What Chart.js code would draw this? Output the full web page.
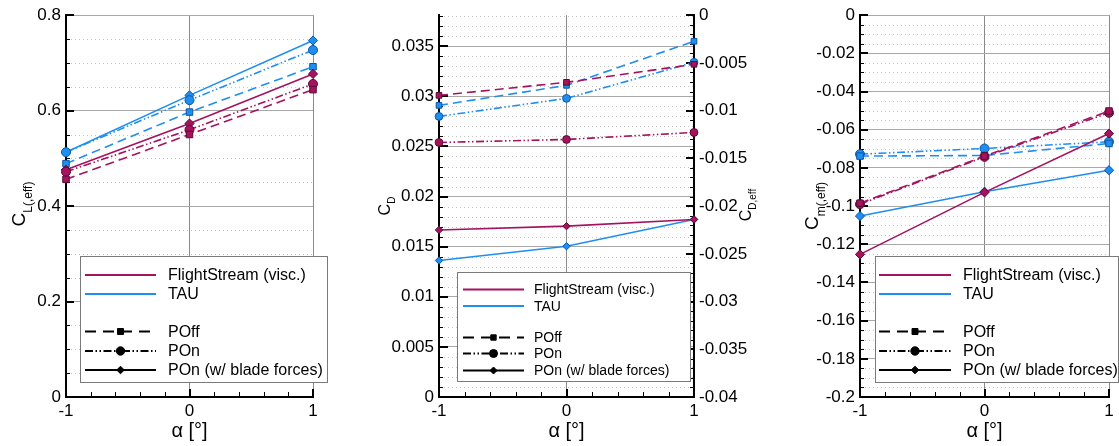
<!DOCTYPE html>
<html><head><meta charset="utf-8">
<script src="https://cdn.jsdelivr.net/npm/chart.js@4.4.1/dist/chart.umd.min.js"></script>
<style>
html,body{margin:0;padding:0;background:#fff;}
#wrap{position:relative;width:1119px;height:446px;overflow:hidden;}
canvas{position:absolute;left:0;top:0;}
</style></head><body>
<div id="wrap">
<canvas id="p1" width="1119" height="446"></canvas>
<canvas id="p2" width="1119" height="446"></canvas>
<canvas id="p3" width="1119" height="446"></canvas>
</div>
<script>
// ---------------- data ----------------
const alpha = [-1, 0, 1];
const xTicks = [-1, 0, 1];

// Panel 1: lift coefficient
const clTicks = [0, 0.2, 0.4, 0.6, 0.8];
const clFsPOff   = [0.456, 0.550, 0.644];
const clFsPOn    = [0.472, 0.560, 0.656];
const clFsBlade  = [0.476, 0.573, 0.677];
const clTauPOff  = [0.489, 0.597, 0.692];
const clTauPOn   = [0.513, 0.622, 0.727];
const clTauBlade = [0.513, 0.632, 0.747];

// Panel 2: drag coefficient (left) and effective drag coefficient (right)
const cdTicks    = [0, 0.005, 0.01, 0.015, 0.02, 0.025, 0.03, 0.035];
const cdEffTicks = [-0.04, -0.035, -0.03, -0.025, -0.02, -0.015, -0.01, -0.005, 0];
const cdFsPOff   = [0.0301, 0.0314, 0.0332];
const cdFsPOn    = [0.0254, 0.0257, 0.0264];
const cdTauPOff  = [0.0291, 0.0311, 0.0355];
const cdTauPOn   = [0.0280, 0.0298, 0.0334];
const cdEffFsBlade  = [-0.0225, -0.0221, -0.0214];
const cdEffTauBlade = [-0.0257, -0.0242, -0.0214];

// Panel 3: pitching moment coefficient
const cmTicks = [-0.2, -0.18, -0.16, -0.14, -0.12, -0.1, -0.08, -0.06, -0.04, -0.02, 0];
const cmFsPOff   = [-0.0985, -0.0738, -0.0502];
const cmFsPOn    = [-0.0990, -0.0742, -0.0511];
const cmFsBlade  = [-0.1253, -0.0928, -0.0620];
const cmTauPOff  = [-0.0738, -0.0735, -0.0672];
const cmTauPOn   = [-0.0728, -0.0698, -0.0663];
const cmTauBlade = [-0.1052, -0.0925, -0.0812];

const legendLabels = ['FlightStream (visc.)', 'TAU', 'POff', 'POn', 'POn (w/ blade forces)'];

// ---------------- styles ----------------
const FS_COLOR = '#A5135E', FS_EDGE = '#5a0a33';
const TAU_COLOR = '#1F8EF1', TAU_EDGE = '#0b56a3';
const GRID = '#a8a8a8', VGRID = '#8a8a8a', MINOR = '#c6c6c6';
const DASH_OFF = [9, 5];
const DASH_ON = [8, 2.5, 1.5, 2.5, 1.5, 2.5];
const FONT = '"Liberation Sans", Arial, Helvetica, sans-serif';

Chart.defaults.font.family = FONT;
Chart.defaults.font.size = 17;
Chart.defaults.color = '#000';

function series(vals, color, edge, kind, yAxisID, r) {
  const st = {off: ['rect', DASH_OFF], on: ['circle', DASH_ON], blade: ['rectRot', []]}[kind];
  return {
    data: alpha.map((a, i) => ({x: a, y: vals[i]})),
    yAxisID: yAxisID || 'y',
    showLine: true,
    borderColor: color, borderWidth: 1.6, borderDash: st[1],
    backgroundColor: color,
    pointStyle: st[0], pointRadius: r[kind], pointHoverRadius: r[kind],
    pointBackgroundColor: color, pointBorderColor: edge, pointBorderWidth: 1,
    tension: 0, fill: false, clip: false
  };
}

function steps(lo, hi, step, skipEvery) {
  const out = [];
  const n = Math.round((hi - lo) / step);
  for (let i = 0; i <= n; i++) {
    if (skipEvery && i % skipEvery === 0) continue;
    out.push(+(lo + i * step).toFixed(6));
  }
  return out;
}

function xScale(grayAt) {
  return {
    type: 'linear', min: -1, max: 1,
    afterBuildTicks: s => { s.ticks = xTicks.map(v => ({value: v})); },
    afterFit: s => { s.height = 49; },
    ticks: {padding: 4, autoSkip: false, maxRotation: 0, callback: v => String(v)},
    grid: {drawTicks: false, lineWidth: 1,
      color: c => (c.tick && grayAt.includes(c.tick.value)) ? VGRID : 'rgba(0,0,0,0)'},
    border: {display: true, color: '#000', width: 2},
    title: {display: true, text: 'α [°]', font: {size: 20}, padding: {top: 0, bottom: 3}}
  };
}

function yScale(o) {
  return {
    type: 'linear', position: o.position || 'left', min: o.min, max: o.max,
    afterBuildTicks: s => { s.ticks = o.ticks.map(v => ({value: v})); },
    afterFit: s => { s.width = o.width; },
    ticks: {padding: 5, autoSkip: false, callback: v => String(v)},
    grid: {drawTicks: false, drawOnChartArea: o.grid !== false, lineWidth: 1,
      color: c => (c.tick && c.tick.value === o.min) ? 'rgba(0,0,0,0)' : GRID},
    border: {display: true, color: '#000', width: 2}
  };
}

const decor = {
  id: 'decor',
  beforeDatasetsDraw(chart, args, o) {
    const ctx = chart.ctx, a = chart.chartArea;
    ctx.save();
    ctx.lineWidth = 1; ctx.strokeStyle = MINOR; ctx.setLineDash([1, 3]);
    (o.minor || []).forEach(v => {
      const y = Math.round(chart.scales[o.minorAxis].getPixelForValue(v)) + 0.5;
      ctx.beginPath(); ctx.moveTo(a.left + 1, y); ctx.lineTo(a.right, y); ctx.stroke();
    });
    ctx.setLineDash([]);
    ctx.strokeStyle = '#000';
    (o.tickMarks || []).forEach(t => {
      const s = chart.scales[t.axis];
      ctx.lineWidth = t.w;
      t.values.forEach(v => {
        let p = Math.round(s.getPixelForValue(v));
        if (t.w % 2 === 1) p += 0.5;
        ctx.beginPath();
        if (t.side === 'left') { ctx.moveTo(a.left, p); ctx.lineTo(a.left + t.len, p); }
        else if (t.side === 'right') { ctx.moveTo(a.right, p); ctx.lineTo(a.right - t.len, p); }
        else { ctx.moveTo(p, a.bottom); ctx.lineTo(p, a.bottom - t.len); }
        ctx.stroke();
      });
    });
    ctx.restore();
  },
  afterDatasetsDraw(chart, args, o) {
    const L = o.legend; if (!L) return;
    const ctx = chart.ctx;
    ctx.save();
    ctx.fillStyle = '#fff'; ctx.strokeStyle = '#7a7a7a'; ctx.lineWidth = 1;
    ctx.fillRect(L.box[0], L.box[1], L.box[2] - L.box[0], L.box[3] - L.box[1]);
    ctx.strokeRect(L.box[0] + 0.5, L.box[1] + 0.5, L.box[2] - L.box[0], L.box[3] - L.box[1]);
    const rows = [
      {color: FS_COLOR, dash: [], m: null},
      {color: TAU_COLOR, dash: [], m: null},
      {color: '#000', dash: [11, 7], m: 'rect', r: L.mr[0]},
      {color: '#000', dash: [8, 2.5, 1.5, 2.5, 1.5, 2.5], m: 'circle', r: L.mr[1]},
      {color: '#000', dash: [], m: 'rectRot', r: L.mr[2]}
    ];
    rows.forEach((row, i) => {
      const y = L.rows[i];
      ctx.strokeStyle = row.color; ctx.lineWidth = 2; ctx.setLineDash(row.dash);
      ctx.beginPath(); ctx.moveTo(L.sx[0], y); ctx.lineTo(L.sx[1], y); ctx.stroke();
      ctx.setLineDash([]);
      if (row.m) {
        ctx.fillStyle = '#000'; ctx.strokeStyle = '#000'; ctx.lineWidth = 1;
        Chart.helpers.drawPoint(ctx, {pointStyle: row.m, radius: row.r, rotation: 0, borderWidth: 1},
          (L.sx[0] + L.sx[1]) / 2, y);
      }
      ctx.fillStyle = '#000';
      ctx.font = L.font + 'px ' + FONT;
      ctx.textBaseline = 'middle'; ctx.textAlign = 'left';
      ctx.fillText(legendLabels[i], L.tx, y + 1);
    });
    ctx.restore();
  },
  afterDraw(chart, args, o) {
    const ctx = chart.ctx;
    (o.yTitles || []).forEach(t => {
      ctx.save();
      ctx.translate(t.x, t.y);
      ctx.rotate(-Math.PI / 2);
      ctx.fillStyle = '#000';
      ctx.textBaseline = 'alphabetic'; ctx.textAlign = 'left';
      ctx.font = t.ms + 'px ' + FONT;
      const wm = ctx.measureText(t.main).width;
      ctx.font = t.ss + 'px ' + FONT;
      const ws = ctx.measureText(t.sub).width;
      const x0 = -(wm + ws) / 2;
      ctx.font = t.ms + 'px ' + FONT;
      ctx.fillText(t.main, x0, 0);
      ctx.font = t.ss + 'px ' + FONT;
      ctx.fillText(t.sub, x0 + wm, t.so);
      ctx.restore();
    });
  }
};

const commonOpts = {
  responsive: false, animation: false, devicePixelRatio: 1,
  events: [],
};
const xMinorTicks = steps(-1, 1, 0.2, 5);

// ---------------- Panel 1 ----------------
const R1 = {off: 4.6, on: 4.5, blade: 4.6};
new Chart(document.getElementById('p1'), {
  type: 'scatter',
  data: {datasets: [
    series(clFsPOff, FS_COLOR, FS_EDGE, 'off', 'y', R1),
    series(clFsPOn, FS_COLOR, FS_EDGE, 'on', 'y', R1),
    series(clFsBlade, FS_COLOR, FS_EDGE, 'blade', 'y', R1),
    series(clTauPOff, TAU_COLOR, TAU_EDGE, 'off', 'y', R1),
    series(clTauPOn, TAU_COLOR, TAU_EDGE, 'on', 'y', R1),
    series(clTauBlade, TAU_COLOR, TAU_EDGE, 'blade', 'y', R1)
  ]},
  options: Object.assign({}, commonOpts, {
    layout: {padding: {left: 6, right: 1119 - 313, top: 15, bottom: 0}},
    scales: {
      x: xScale([0, 1]),
      y: yScale({min: 0, max: 0.8, ticks: clTicks, width: 60})
    },
    plugins: {
      legend: {display: false}, tooltip: {enabled: false},
      decor: {
        minorAxis: 'y', minor: steps(0, 0.8, 0.05, 4),
        tickMarks: [
          {axis: 'y', side: 'left', values: clTicks, len: 8, w: 2},
          {axis: 'y', side: 'left', values: steps(0, 0.8, 0.05, 4), len: 4, w: 1},
          {axis: 'x', side: 'bottom', values: xTicks, len: 8, w: 2},
          {axis: 'x', side: 'bottom', values: xMinorTicks, len: 5, w: 1}
        ],
        legend: {box: [80, 256, 327, 382], rows: [275, 294, 331.5, 351, 370], sx: [85, 156], tx: 168, font: 16, mr: [4.2, 4.2, 3.8]},
        yTitles: [{x: 25, y: 204, main: 'C', sub: 'L(,eff)', ms: 19, ss: 12, so: 7}]
      }
    }
  }),
  plugins: [decor]
});

// ---------------- Panel 2 ----------------
const R2 = {off: 4.0, on: 3.9, blade: 3.7};
new Chart(document.getElementById('p2'), {
  type: 'scatter',
  data: {datasets: [
    series(cdFsPOff, FS_COLOR, FS_EDGE, 'off', 'y', R2),
    series(cdFsPOn, FS_COLOR, FS_EDGE, 'on', 'y', R2),
    series(cdEffFsBlade, FS_COLOR, FS_EDGE, 'blade', 'y2', R2),
    series(cdTauPOff, TAU_COLOR, TAU_EDGE, 'off', 'y', R2),
    series(cdTauPOn, TAU_COLOR, TAU_EDGE, 'on', 'y', R2),
    series(cdEffTauBlade, TAU_COLOR, TAU_EDGE, 'blade', 'y2', R2)
  ]},
  options: Object.assign({}, commonOpts, {
    layout: {padding: {left: 439 - 60, right: 1119 - 694 - 60, top: 15, bottom: 0}},
    scales: {
      x: xScale([0]),
      y: yScale({min: 0, max: 0.0381, ticks: cdTicks, width: 60}),
      y2: yScale({min: -0.04, max: 0, ticks: cdEffTicks, width: 60, position: 'right', grid: false})
    },
    plugins: {
      legend: {display: false}, tooltip: {enabled: false},
      decor: {
        minorAxis: 'y', minor: steps(0, 0.038, 0.001, 5),
        tickMarks: [
          {axis: 'y', side: 'left', values: cdTicks, len: 9, w: 2},
          {axis: 'y', side: 'left', values: steps(0, 0.038, 0.001, 5), len: 4, w: 1},
          {axis: 'y2', side: 'right', values: cdEffTicks, len: 8, w: 2},
          {axis: 'y2', side: 'right', values: steps(-0.04, 0, 0.001, 5), len: 4, w: 1},
          {axis: 'x', side: 'bottom', values: xTicks, len: 8, w: 2},
          {axis: 'x', side: 'bottom', values: xMinorTicks, len: 5, w: 1}
        ],
        legend: {box: [457, 272, 690, 381], rows: [289.5, 306, 337.5, 353.5, 370.5], sx: [463, 524], tx: 534, font: 14, mr: [3.8, 4.0, 3.5]},
        yTitles: [
          {x: 390, y: 206, main: 'C', sub: 'D', ms: 16, ss: 10, so: 5},
          {x: 751, y: 205, main: 'C', sub: 'D,eff', ms: 16, ss: 10, so: 5}
        ]
      }
    }
  }),
  plugins: [decor]
});

// ---------------- Panel 3 ----------------
const R3 = {off: 4.6, on: 4.5, blade: 4.6};
new Chart(document.getElementById('p3'), {
  type: 'scatter',
  data: {datasets: [
    series(cmFsPOff, FS_COLOR, FS_EDGE, 'off', 'y', R3),
    series(cmFsPOn, FS_COLOR, FS_EDGE, 'on', 'y', R3),
    series(cmFsBlade, FS_COLOR, FS_EDGE, 'blade', 'y', R3),
    series(cmTauPOff, TAU_COLOR, TAU_EDGE, 'off', 'y', R3),
    series(cmTauPOn, TAU_COLOR, TAU_EDGE, 'on', 'y', R3),
    series(cmTauBlade, TAU_COLOR, TAU_EDGE, 'blade', 'y', R3)
  ]},
  options: Object.assign({}, commonOpts, {
    layout: {padding: {left: 860 - 60, right: 1119 - 1109, top: 15, bottom: 0}},
    scales: {
      x: xScale([0, 1]),
      y: yScale({min: -0.2, max: 0, ticks: cmTicks, width: 60})
    },
    plugins: {
      legend: {display: false}, tooltip: {enabled: false},
      decor: {
        minorAxis: 'y', minor: steps(-0.2, 0, 0.005, 4),
        tickMarks: [
          {axis: 'y', side: 'left', values: cmTicks, len: 8, w: 2},
          {axis: 'y', side: 'left', values: steps(-0.2, 0, 0.005, 4), len: 4, w: 1},
          {axis: 'x', side: 'bottom', values: xTicks, len: 8, w: 2},
          {axis: 'x', side: 'bottom', values: xMinorTicks, len: 5, w: 1}
        ],
        legend: {box: [875, 256, 1118, 382], rows: [275, 294, 331.5, 351, 370], sx: [879, 951], tx: 963, font: 16, mr: [4.2, 4.2, 3.8]},
        yTitles: [{x: 818, y: 206, main: 'C', sub: 'm(,eff)', ms: 19, ss: 12, so: 7}]
      }
    }
  }),
  plugins: [decor]
});
</script>
</body></html>
